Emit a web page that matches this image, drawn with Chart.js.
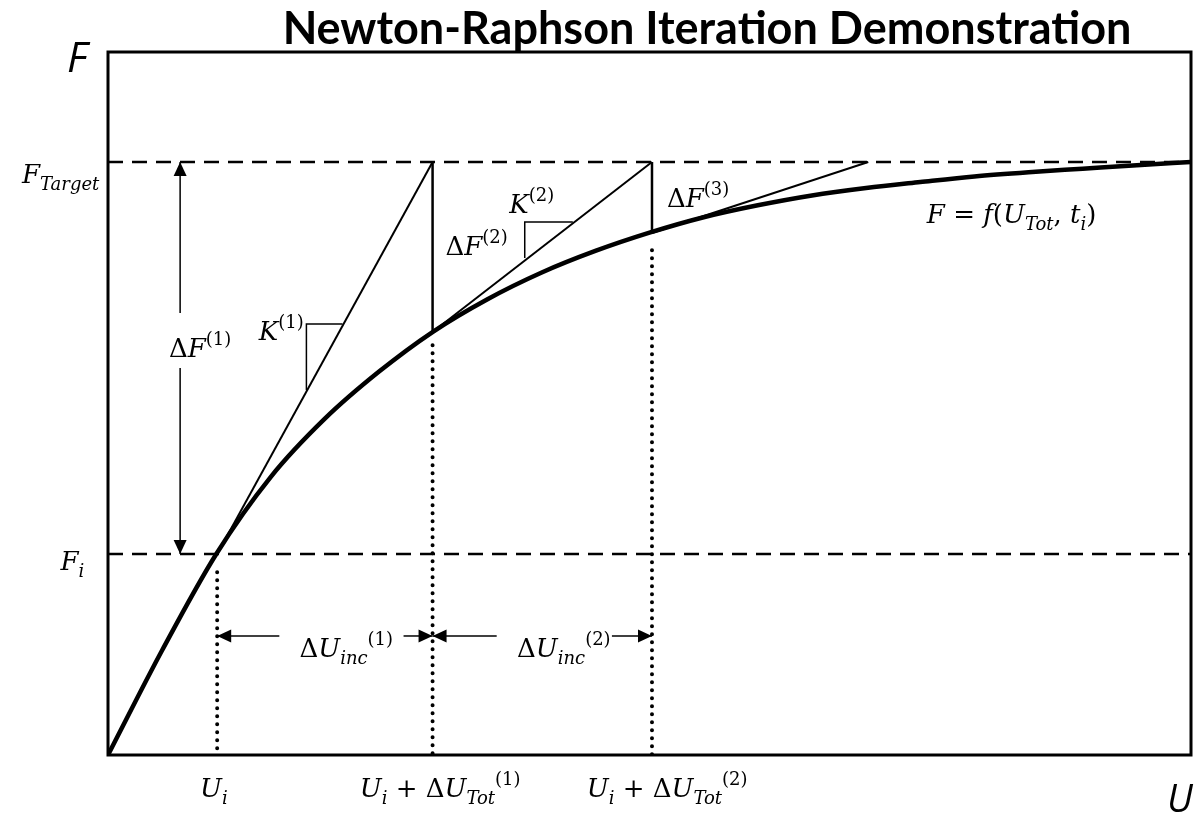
<!DOCTYPE html>
<html>
<head>
<meta charset="utf-8">
<script src="https://cdn.jsdelivr.net/npm/chart.js@4"></script>
<style>
  html, body { margin: 0; padding: 0; background: #fff; }
  #wrap { width: 1198px; height: 818px; position: relative; }
</style>
</head>
<body>
<div id="wrap"><canvas id="nrChart"></canvas></div>
<script>
/* ---------- DATA ---------- */
const chartTitle = 'Newton-Raphson Iteration Demonstration';

// response curve F = f(U)
const uCurve = [0, 0.5, 1, 1.5, 2, 2.5, 3, 3.5, 4, 4.5, 5, 5.5, 6, 6.5, 7, 7.5, 8, 8.5, 9, 9.5, 10];
const fCurve = [0, 1.49, 2.86, 3.95, 4.78, 5.45, 6.02, 6.48, 6.86, 7.17, 7.43, 7.65, 7.82, 7.96, 8.065, 8.15, 8.23, 8.29, 8.34, 8.39, 8.435];

// iterations: U_i, U_i + dU(1), U_i + dU(2) and the curve value there
const uIter = [1.008, 2.997, 5.023];
const fIter = [2.859, 6.017, 7.425];
const fTarget = 8.435;
const tangentEndU = [2.997, 5.023, 7.02];   // where each tangent meets F_Target
const dotTopF = [2.6, 5.83, 7.18];          // top of the dotted drop lines

/* ---------- HELPERS ---------- */
const line = (pts, extra) => Object.assign({
  data: pts, showLine: true, pointRadius: 0, borderColor: '#000',
  borderWidth: 2, fill: false
}, extra);

const pt = (x, y) => ({ x, y });

// math text: [text, kind]  kind: i = italic, n = upright, b = subscript, p = superscript
const MATH = '"DejaVu Serif", serif';
const S = 26, s = 18;
function mathFont(kind) {
  if (kind === 'i') return `italic ${S}px ${MATH}`;
  if (kind === 'n') return `${S}px ${MATH}`;
  if (kind === 'b') return `italic ${s}px ${MATH}`;
  return `${s}px ${MATH}`;
}
function drawMath(ctx, parts, x, y, align) {
  let w = 0;
  parts.forEach(([t, k]) => { ctx.font = mathFont(k); w += ctx.measureText(t).width; });
  let cx = align === 'right' ? x - w : align === 'left' ? x : x - w / 2;
  parts.forEach(([t, k]) => {
    ctx.font = mathFont(k);
    const dy = k === 'b' ? 7 : k === 'p' ? -12 : 0;
    ctx.fillText(t, cx, y + dy);
    cx += ctx.measureText(t).width;
  });
}

function arrowHead(ctx, x, y, dir) {
  const L = 14, H = 6.5;
  ctx.beginPath();
  ctx.moveTo(x, y);
  if (dir === 'up')    { ctx.lineTo(x - H, y + L); ctx.lineTo(x + H, y + L); }
  if (dir === 'down')  { ctx.lineTo(x - H, y - L); ctx.lineTo(x + H, y - L); }
  if (dir === 'left')  { ctx.lineTo(x + L, y - H); ctx.lineTo(x + L, y + H); }
  if (dir === 'right') { ctx.lineTo(x - L, y - H); ctx.lineTo(x - L, y + H); }
  ctx.closePath();
  ctx.fill();
}

/* ---------- ANNOTATION PLUGIN ---------- */
const annotate = {
  id: 'annotate',
  afterDatasetsDraw(chart) {
    const { ctx, chartArea: a, scales: { x, y } } = chart;
    const X = v => x.getPixelForValue(v);
    const Y = v => y.getPixelForValue(v);
    ctx.save();
    ctx.fillStyle = '#000';
    ctx.strokeStyle = '#000';

    // plot box
    ctx.lineWidth = 3;
    ctx.strokeRect(a.left, a.top, a.right - a.left, a.bottom - a.top);

    // arrow heads
    const uF = 0.666, fArr = 1.693;
    arrowHead(ctx, X(uF), Y(fTarget), 'up');
    arrowHead(ctx, X(uF), Y(fIter[0]), 'down');
    arrowHead(ctx, X(uIter[0]), Y(fArr), 'left');
    arrowHead(ctx, X(uIter[1]), Y(fArr), 'right');
    arrowHead(ctx, X(uIter[1]), Y(fArr), 'left');
    arrowHead(ctx, X(uIter[2]), Y(fArr), 'right');

    // math labels
    ctx.textBaseline = 'alphabetic';
    drawMath(ctx, [['Δ', 'n'], ['U', 'i'], ['inc', 'b'], ['(1)', 'p']], X(2.20), Y(1.394));
    drawMath(ctx, [['Δ', 'n'], ['U', 'i'], ['inc', 'b'], ['(2)', 'p']], X(4.209), Y(1.394));
    drawMath(ctx, [['Δ', 'n'], ['F', 'i'], ['(1)', 'p']], X(0.851), Y(5.661));
    drawMath(ctx, [['K', 'i'], ['(1)', 'p']], X(1.60), Y(5.903));
    drawMath(ctx, [['K', 'i'], ['(2)', 'p']], X(3.913), Y(7.71));
    drawMath(ctx, [['Δ', 'n'], ['F', 'i'], ['(2)', 'p']], X(3.404), Y(7.112));
    drawMath(ctx, [['Δ', 'n'], ['F', 'i'], ['(3)', 'p']], X(5.449), Y(7.795));
    drawMath(ctx, [['F', 'i'], [' = ', 'n'], ['f', 'i'], ['(', 'n'], ['U', 'i'], ['Tot', 'b'],
                   [', ', 'n'], ['t', 'i'], ['i', 'b'], [')', 'n']], X(8.344), Y(7.568));

    // axis-side labels
    drawMath(ctx, [['F', 'i'], ['Target', 'b']], X(-0.08), Y(8.137), 'right');
    drawMath(ctx, [['F', 'i'], ['i', 'b']], X(-0.22), Y(2.63), 'right');
    drawMath(ctx, [['U', 'i'], ['i', 'b']], X(uIter[0] - 0.03), 797);
    drawMath(ctx, [['U', 'i'], ['i', 'b'], [' + ', 'n'], ['Δ', 'n'], ['U', 'i'], ['Tot', 'b'], ['(1)', 'p']], X(uIter[1] + 0.07), 797);
    drawMath(ctx, [['U', 'i'], ['i', 'b'], [' + ', 'n'], ['Δ', 'n'], ['U', 'i'], ['Tot', 'b'], ['(2)', 'p']], X(uIter[2] + 0.14), 797);

    // axis names
    ctx.font = 'italic 42px "Open Sans", sans-serif';
    ctx.textAlign = 'center';
    ctx.fillText('F', 77, 72);
    ctx.font = 'italic 38px "Open Sans", sans-serif';
    ctx.fillText('U', 1180, 812);

    // title
    ctx.font = 'bold 38px Lato, sans-serif';
    const tw = ctx.measureText(chartTitle).width;
    const size = Math.round(38 * 841 / tw);
    ctx.font = `bold ${size}px Lato, sans-serif`;
    ctx.fillText(chartTitle, 707, 44);
    ctx.restore();
  }
};

/* ---------- CHART ---------- */
const dashed = { borderDash: [15, 9], borderWidth: 2.5 };
const dotted = { borderDash: [0, 8], borderWidth: 4, borderCapStyle: 'round' };

new Chart(document.getElementById('nrChart'), {
  type: 'scatter',
  data: {
    datasets: [
      // F_Target and F_i levels
      line([pt(0, fTarget), pt(10, fTarget)], dashed),
      line([pt(0, fIter[0]), pt(10, fIter[0])], dashed),
      // dotted drops to the U axis
      ...uIter.map((u, i) => line([pt(u, dotTopF[i]), pt(u, 0)], dotted)),
      // tangents
      ...uIter.map((u, i) => line([pt(u, fIter[i]), pt(tangentEndU[i], fTarget)], { borderWidth: 2 })),
      // residual verticals
      line([pt(uIter[1], fTarget), pt(uIter[1], fIter[1])], { borderWidth: 2.5 }),
      line([pt(uIter[2], fTarget), pt(uIter[2], fIter[2])], { borderWidth: 2.5 }),
      // slope triangles
      line([pt(2.165, 6.131), pt(1.832, 6.131), pt(1.832, 5.192)], { borderWidth: 1.5 }),
      line([pt(4.292, 7.582), pt(3.848, 7.582), pt(3.848, 7.07)], { borderWidth: 1.5 }),
      // dimension arrow shafts
      line([pt(0.666, fTarget), pt(0.666, 6.287)], { borderWidth: 1.5 }),
      line([pt(0.666, 5.505), pt(0.666, fIter[0])], { borderWidth: 1.5 }),
      line([pt(uIter[0], 1.693), pt(1.582, 1.693)], { borderWidth: 1.5 }),
      line([pt(2.729, 1.693), pt(uIter[1], 1.693)], { borderWidth: 1.5 }),
      line([pt(uIter[1], 1.693), pt(3.589, 1.693)], { borderWidth: 1.5 }),
      line([pt(4.653, 1.693), pt(uIter[2], 1.693)], { borderWidth: 1.5 }),
      // the response curve
      line(uCurve.map((u, i) => pt(u, fCurve[i])), { borderWidth: 4.5, cubicInterpolationMode: 'monotone' })
    ]
  },
  options: {
    responsive: true,
    maintainAspectRatio: false,
    animation: false,
    layout: { padding: { left: 108, top: 52, right: 7, bottom: 63 } },
    plugins: { legend: { display: false }, tooltip: { enabled: false } },
    scales: {
      x: { type: 'linear', min: 0, max: 10, display: false },
      y: { type: 'linear', min: 0, max: 10, display: false }
    }
  },
  plugins: [annotate]
});
</script>
</body>
</html>
